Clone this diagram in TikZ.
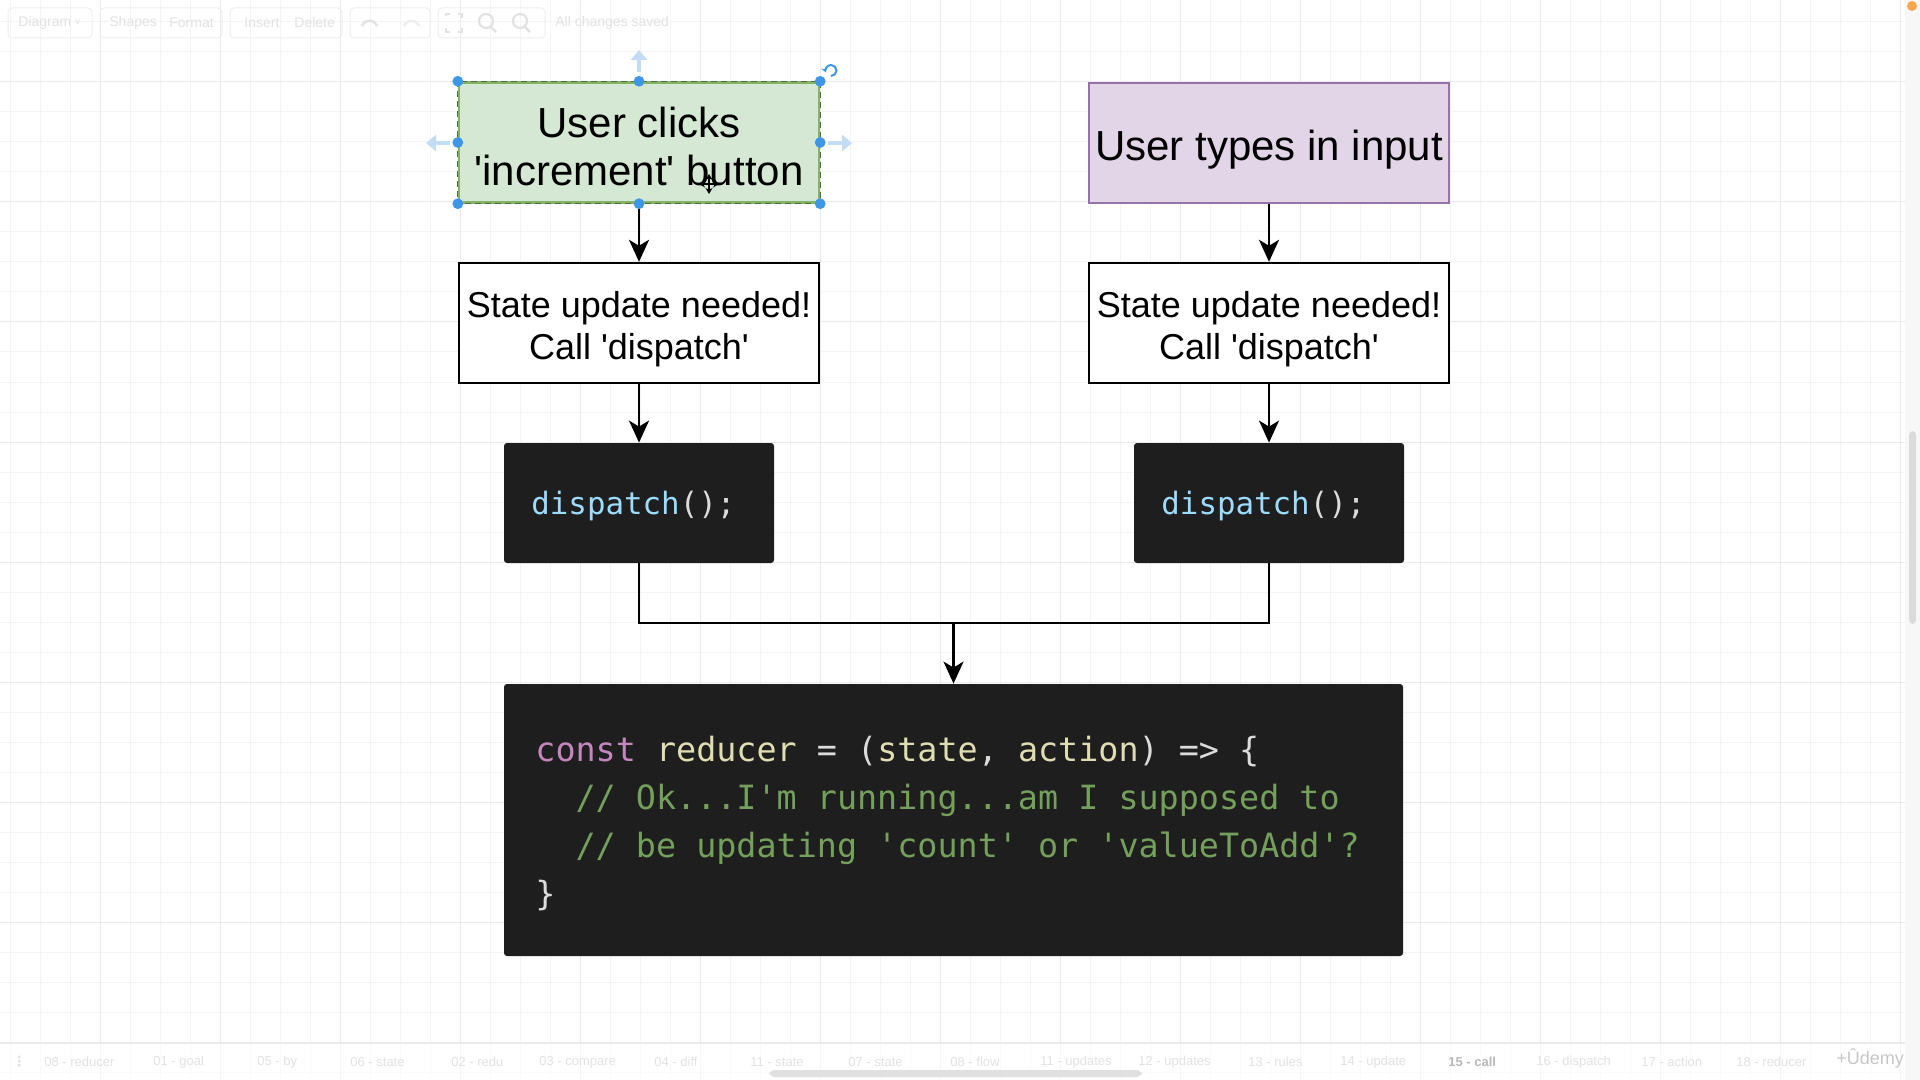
\documentclass[tikz,border=0pt]{standalone}
\usepackage{fontspec}
\setmainfont{Liberation Sans}
\newfontfamily\codefont{DejaVu Sans Mono}
\newfontfamily\symfont{DejaVu Sans}
\usetikzlibrary{arrows.meta}
\definecolor{gridminor}{HTML}{F4F4F4}
\definecolor{gridmajor}{HTML}{EAEAEA}
\definecolor{greenfill}{HTML}{D5E8D4}
\definecolor{greenline}{HTML}{82B366}
\definecolor{purplefill}{HTML}{E1D5E7}
\definecolor{purpleline}{HTML}{9673A6}
\definecolor{codebg}{HTML}{1E1E1E}
\definecolor{ckw}{HTML}{C586C0}
\definecolor{cid}{HTML}{E0DDB2}
\definecolor{cop}{HTML}{DCDCDC}
\definecolor{ccom}{HTML}{73A05A}
\definecolor{cfun}{HTML}{9CDCFE}
\definecolor{handleblue}{HTML}{3E97E6}
\definecolor{hintblue}{HTML}{C2DCF5}
\definecolor{uifaint}{HTML}{E2E2E2}
\newcommand\sq{\textquotesingle}
\begin{document}
\begin{tikzpicture}[x=0.5pt,y=-0.5pt,
  topbox/.style={line width=1.2pt, minimum width=180pt, minimum height=60pt, inner sep=0pt},
  statebox/.style={draw=black, fill=white, line width=1.2pt, minimum width=180pt, minimum height=60pt, inner sep=0pt},
  toptxt/.style={inner sep=0pt, align=center, font=\fontsize{21}{24}\selectfont},
  statetxt/.style={inner sep=0pt, align=center, font=\fontsize{18}{20.8}\selectfont},
  darkbox/.style={fill=codebg, rounded corners=1.5pt, inner sep=0pt},
  flow/.style={line width=1.25pt, -{Stealth[length=11pt,width=10pt,inset=3pt]}},
  conn/.style={line width=1.25pt},
  dispatchtxt/.style={anchor=base west, inner sep=0pt, font=\codefont\fontsize{15.4}{18}\selectfont},
  codeline/.style={anchor=base west, inner sep=0pt, font=\codefont\fontsize{16.7}{20}\selectfont},
  handle/.style={fill=handleblue},
  hint/.style={draw=hintblue, line width=2pt, -{Triangle[length=5pt,width=8pt]}},
  tool/.style={text=uifaint, inner sep=0pt, font=\fontsize{7}{8}\selectfont},
  tab/.style={text=uifaint, inner sep=0pt, font=\fontsize{6.5}{8}\selectfont}
]
\useasboundingbox (0,0) rectangle (1920,1080);
\fill[white] (0,0) rectangle (1920,1080);
% grid
\foreach \k in {0,...,63} \draw[gridminor, line width=0.5pt] ({10+30*\k},0) -- ({10+30*\k},1080);
\foreach \k in {0,...,35} \draw[gridminor, line width=0.5pt] (0,{22+30*\k}) -- (1905,{22+30*\k});
\foreach \k in {0,...,15} \draw[gridmajor, line width=0.5pt] ({100+120*\k},0) -- ({100+120*\k},1080);
\foreach \k in {0,...,8} \draw[gridmajor, line width=0.5pt] (0,{82+120*\k}) -- (1905,{82+120*\k});

% top toolbar (faint)
\draw[uifaint!60, rounded corners=2pt, line width=0.5pt] (8,8) rectangle (92,38);
\draw[uifaint!60, rounded corners=2pt, line width=0.5pt] (100,8) rectangle (222,38);
\draw[uifaint!60, rounded corners=2pt, line width=0.5pt] (230,8) rectangle (342,38);
\draw[uifaint!60, rounded corners=2pt, line width=0.5pt] (350,8) rectangle (430,38);
\draw[uifaint!60, rounded corners=2pt, line width=0.5pt] (438,8) rectangle (545,38);
\node[tool, anchor=west] (tDiagram) at (18,23) {Diagram \raisebox{1pt}{\tiny v}};
\node[tool, anchor=west] (tShapes) at (109,23) {Shapes};
\node[tool, anchor=west] (tFormat) at (169,23) {Format};
\node[tool, anchor=west] (tInsert) at (244,23) {Insert};
\node[tool, anchor=west] (tDelete) at (294,23) {Delete};
\node[tool, anchor=west] (tSaved) at (555,23) {All changes saved};
\draw[uifaint, line width=1.2pt] (362,26) arc (200:340:8);
\draw[uifaint!60, line width=1.2pt] (404,26) arc (200:340:8);
\draw[uifaint, line width=1.1pt] (446,16) -- (446,14) -- (450,14) (458,14) -- (462,14) -- (462,18) (462,28) -- (462,32) -- (458,32) (450,32) -- (446,32) -- (446,28);
\draw[uifaint, line width=1.1pt] (486,21) circle (3.5pt) (491,27) -- (496,32);
\draw[uifaint, line width=1.1pt] (520,21) circle (3.5pt) (525,27) -- (530,32);

% right scrollbar strip
\fill[white!97!black] (1905,0) rectangle (1920,1080);
\fill[white!86!black, rounded corners=2pt] (1909,431) rectangle (1916,624);
\fill[orange!70] (1912,6) circle (2.5pt);

% bottom tab bar
\fill[white, opacity=0.6] (0,1043) rectangle (1905,1080);
\draw[uifaint!70, line width=0.6pt] (0,1043) -- (1905,1043);
\node[tab, anchor=west, font=\symfont\bfseries\fontsize{7}{8}\selectfont] (tab0) at (12,1062) {⋮};
\node[tab, anchor=west] (tab1) at (44,1062) {08 - reducer};
\node[tab, anchor=west] (tab2) at (153,1062) {01 - goal};
\node[tab, anchor=west] (tab3) at (257,1062) {05 - by};
\node[tab, anchor=west] (tab4) at (350,1062) {06 - state};
\node[tab, anchor=west] (tab5) at (451,1062) {02 - redu};
\node[tab, anchor=west] (tab6) at (539,1062) {03 - compare};
\node[tab, anchor=west] (tab7) at (654,1062) {04 - diff};
\node[tab, anchor=west] (tab8) at (750,1062) {11 - state};
\node[tab, anchor=west] (tab9) at (848,1062) {07 - state};
\node[tab, anchor=west] (tab10) at (950,1062) {08 - flow};
\node[tab, anchor=west] (tab11) at (1040,1062) {11 - updates};
\node[tab, anchor=west] (tab12) at (1138,1062) {12 - updates};
\node[tab, anchor=west] (tab13) at (1248,1062) {13 - rules};
\node[tab, anchor=west] (tab14) at (1340,1062) {14 - update};
\node[tab, anchor=west, text=black!28, font=\bfseries\fontsize{6.5}{8}\selectfont] (tab15) at (1448,1062) {15 - call};
\node[tab, anchor=west] (tab16) at (1536,1062) {16 - dispatch};
\node[tab, anchor=west] (tab17) at (1641,1062) {17 - action};
\node[tab, anchor=west] (tab18) at (1736,1062) {18 - reducer};
\node[tab, anchor=west, text=black!22, font=\fontsize{9}{10}\selectfont] (udemy) at (1836,1058) {+Ûdemy};
\fill[white!88!black, rounded corners=3pt] (769,1070) rectangle (1142,1077);

% main boxes
\node[topbox, fill=greenfill, draw=greenline] (g) at (639,142.5) {};
\draw[greenline!60!black, line width=0.5pt, dash pattern=on 3pt off 2pt] (g.north west) rectangle (g.south east);
\node[toptxt] (gt) at (639,146.5) {User clicks\\\sq increment\sq{} button};
\node[topbox, fill=purplefill, draw=purpleline] (p) at (1269,143) {};
\node[toptxt] (pt) at (1269,150) {User types in input};
\node[statebox] (sl) at (639,323) {};
\node[statetxt] (slt) at (639,329) {State update needed!\\Call \sq dispatch\sq};
\node[statebox] (sr) at (1269,323) {};
\node[statetxt] (srt) at (1269,329) {State update needed!\\Call \sq dispatch\sq};
\node[darkbox, minimum width=135pt, minimum height=60pt] (dl) at (639,503) {};
\node[darkbox, minimum width=135pt, minimum height=60pt] (dr) at (1269,503) {};
\node[dispatchtxt] (dlt) at (531,514) {\textcolor{cfun}{dispatch}\textcolor{cop}{();}};
\node[dispatchtxt] (drt) at (1161,514) {\textcolor{cfun}{dispatch}\textcolor{cop}{();}};
\node[darkbox, minimum width=449.5pt, minimum height=136pt] (red) at (953.5,820) {};
\node[codeline] (c1) at (535,761) {\textcolor{ckw}{const} \textcolor{cid}{reducer} \textcolor{cop}{= (}\textcolor{cid}{state}\textcolor{cop}{,} \textcolor{cid}{action}\textcolor{cop}{) => \{}};
\node[codeline] (c2) at (535,809) {\phantom{xx}\textcolor{ccom}{// Ok...I\sq m running...am I supposed to}};
\node[codeline] (c3) at (535,857) {\phantom{xx}\textcolor{ccom}{// be updating \sq count\sq{} or \sq valueToAdd\sq ?}};
\node[codeline] (c4) at (535,905) {\textcolor{cop}{\}}};

% connectors
\draw[flow] (g.south) -- (sl.north);
\draw[flow] (p.south) -- (sr.north);
\draw[flow] (sl.south) -- (dl.north);
\draw[flow] (sr.south) -- (dr.north);
\coordinate (m) at (953.5,623);
\draw[conn] (dl.south) |- (m);
\draw[conn] (dr.south) |- (m);
\draw[flow] (m) -- (red.north);

% selection handles
\foreach \a in {north west, north, north east, west, east, south west, south, south east}
  \fill[handle] (g.\a) circle (2.7pt);
\draw[hint] (639,72) -- (639,50);
\draw[hint] (450,143) -- (426,143);
\draw[hint] (828,143) -- (852,143);
\draw[handleblue, line width=1pt, -{Stealth[length=2.5pt,width=3pt]}] (831,76) arc (90:-200:5.5);
% move cursor
\draw[black, line width=0.8pt, {Stealth[length=3pt,width=3.5pt]}-{Stealth[length=3pt,width=3.5pt]}] (699,184) -- (719,184);
\draw[black, line width=0.8pt, {Stealth[length=3pt,width=3.5pt]}-{Stealth[length=3pt,width=3.5pt]}] (709,174) -- (709,194);
\end{tikzpicture}
\end{document}
